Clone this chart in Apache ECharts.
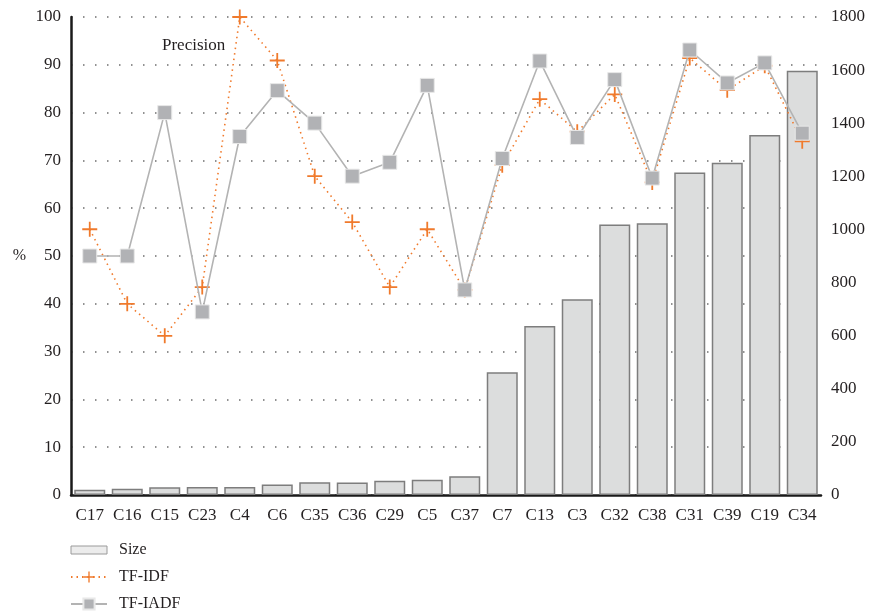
<!DOCTYPE html>
<html>
<head>
<meta charset="utf-8">
<script src="https://cdn.jsdelivr.net/npm/echarts@6/dist/echarts.min.js"></script>
<style>
  html, body { margin: 0; padding: 0; background: #fff; }
  #chart { width: 873px; height: 616px; }
</style>
</head>
<body>
<div id="chart"></div>
<script>
// Clusters ordered by size
const categories = ['C17', 'C16', 'C15', 'C23', 'C4', 'C6', 'C35', 'C36', 'C29', 'C5',
                    'C37', 'C7', 'C13', 'C3', 'C32', 'C38', 'C31', 'C39', 'C19', 'C34'];
// Cluster size (right axis)
const sizeValues = [20, 24, 29, 30, 30, 40, 48, 47, 54, 57,
                    71, 462, 636, 737, 1019, 1023, 1214, 1251, 1356, 1598];
// Precision in % (left axis)
const tfidfValues = [55.6, 40, 33.3, 43.5, 100, 90.9, 66.7, 57.1, 43.5, 55.6,
                     42.9, 69, 82.8, 76, 83.8, 65.4, 91.4, 84.7, 89.8, 74];
const tfiadfValues = [50, 50, 80, 38.3, 75, 84.6, 77.8, 66.7, 69.6, 85.7,
                      42.9, 70.4, 90.8, 74.8, 86.9, 66.3, 93.1, 86.2, 90.4, 75.7];
const leftTicks = { min: 0, max: 100, interval: 10 };
const rightTicks = { min: 0, max: 1800, interval: 200 };

const serif = '"Liberation Serif", "DejaVu Serif", serif';
const textColor = '#231f20';
const crossPath = 'path://M4.4,0 H5.6 V4.4 H10 V5.6 H5.6 V10 H4.4 V5.6 H0 V4.4 H4.4 Z';

const chart = echarts.init(document.getElementById('chart'), null, { renderer: 'canvas' });
chart.setOption({
  animation: false,
  backgroundColor: '#ffffff',
  textStyle: { fontFamily: serif },
  title: {
    text: 'Precision',
    left: 157,
    top: 32,
    textStyle: { fontFamily: serif, fontSize: 17, fontWeight: 'normal', color: textColor }
  },
  grid: { left: 71, right: 52, top: 17, bottom: 121, containLabel: false },
  legend: {
    orient: 'vertical',
    left: 70,
    top: 542,
    padding: 0,
    itemWidth: 36,
    itemHeight: 14,
    itemGap: 11,
    textStyle: { fontFamily: serif, fontSize: 16, lineHeight: 14, color: textColor, padding: [0, 0, 0, 7] },
    data: [
      { name: 'Size', icon: 'path://M0,0 H36 V8 H0 Z', itemStyle: { color: '#ececec', borderColor: '#9a9a9a', borderWidth: 1 } },
      { name: 'TF-IDF' },
      { name: 'TF-IADF' }
    ]
  },
  xAxis: {
    type: 'category',
    data: categories,
    axisLine: { lineStyle: { color: '#1a1a1a', width: 2.5 } },
    axisTick: { show: false },
    axisLabel: { fontFamily: serif, fontSize: 17, color: textColor, margin: 12 }
  },
  yAxis: [
    {
      type: 'value',
      min: leftTicks.min,
      max: leftTicks.max,
      interval: leftTicks.interval,
      name: '%',
      nameLocation: 'middle',
      nameRotate: 0,
      nameGap: 45,
      nameTextStyle: { fontFamily: serif, fontSize: 16, color: textColor },
      axisLine: { show: true, lineStyle: { color: '#1a1a1a', width: 2.5 } },
      axisTick: { show: false },
      axisLabel: { fontFamily: serif, fontSize: 17, color: textColor, margin: 10 },
      splitLine: { show: true, lineStyle: { color: '#6e6e6e', width: 1.5, type: [1.5, 10.5] } }
    },
    {
      type: 'value',
      min: rightTicks.min,
      max: rightTicks.max,
      interval: rightTicks.interval,
      position: 'right',
      axisLine: { show: false },
      axisTick: { show: false },
      axisLabel: { fontFamily: serif, fontSize: 17, color: textColor, margin: 10, formatter: v => String(v) },
      splitLine: { show: false }
    }
  ],
  series: [
    {
      name: 'Size',
      type: 'bar',
      yAxisIndex: 1,
      data: sizeValues,
      barWidth: 31,
      z: 3,
      itemStyle: { color: '#dcdddd', borderColor: '#7d7d7d', borderWidth: 1.5 }
    },
    {
      name: 'TF-IDF',
      type: 'line',
      yAxisIndex: 0,
      data: tfidfValues,
      z: 4,
      symbol: crossPath,
      symbolSize: 15,
      lineStyle: { color: '#f07a2c', width: 1.6, type: [1.5, 4] },
      itemStyle: { color: '#f07a2c', borderWidth: 0 }
    },
    {
      name: 'TF-IADF',
      type: 'line',
      yAxisIndex: 0,
      data: tfiadfValues,
      z: 5,
      symbol: 'rect',
      symbolSize: 14,
      lineStyle: { color: '#b3b3b3', width: 1.6 },
      itemStyle: { color: '#b1b2b5', borderColor: '#e8e8e8', borderWidth: 1 }
    }
  ]
});
</script>
</body>
</html>
